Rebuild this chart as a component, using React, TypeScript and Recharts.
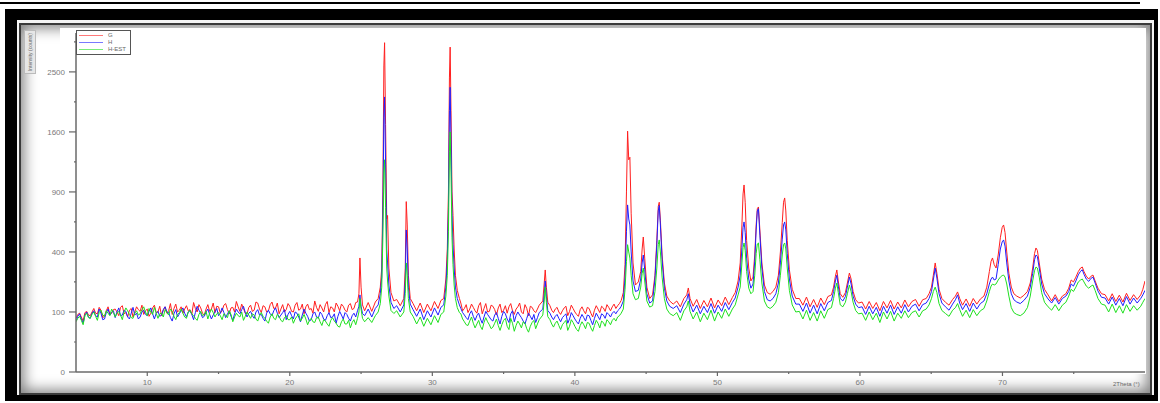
import React from "react";
import { LineChart, Line, XAxis, YAxis, Legend } from "recharts";

// 2θ sampling positions (degrees)
const twoTheta = [
  // 5.000 – 24.750
  5.0, 5.125, 5.25, 5.375, 5.5, 5.625, 5.75, 5.875,
  6.0, 6.125, 6.25, 6.375, 6.5, 6.625, 6.75, 6.875,
  7.0, 7.125, 7.25, 7.375, 7.5, 7.625, 7.75, 7.875,
  8.0, 8.125, 8.25, 8.375, 8.5, 8.625, 8.75, 8.875,
  9.0, 9.125, 9.25, 9.375, 9.5, 9.625, 9.75, 9.875,
  10.0, 10.125, 10.25, 10.375, 10.5, 10.625, 10.75, 10.875,
  11.0, 11.125, 11.25, 11.375, 11.5, 11.625, 11.75, 11.875,
  12.0, 12.125, 12.25, 12.375, 12.5, 12.625, 12.75, 12.875,
  13.0, 13.125, 13.25, 13.375, 13.5, 13.625, 13.75, 13.875,
  14.0, 14.125, 14.25, 14.375, 14.5, 14.625, 14.75, 14.875,
  15.0, 15.125, 15.25, 15.375, 15.5, 15.625, 15.75, 15.875,
  16.0, 16.125, 16.25, 16.375, 16.5, 16.625, 16.75, 16.875,
  17.0, 17.125, 17.25, 17.375, 17.5, 17.625, 17.75, 17.875,
  18.0, 18.125, 18.25, 18.375, 18.5, 18.625, 18.75, 18.875,
  19.0, 19.125, 19.25, 19.375, 19.5, 19.625, 19.75, 19.875,
  20.0, 20.125, 20.25, 20.375, 20.5, 20.625, 20.75, 20.875,
  21.0, 21.125, 21.25, 21.375, 21.5, 21.625, 21.75, 21.875,
  22.0, 22.125, 22.25, 22.375, 22.5, 22.625, 22.75, 22.875,
  23.0, 23.125, 23.25, 23.375, 23.5, 23.625, 23.75, 23.875,
  24.0, 24.125, 24.25, 24.375, 24.5, 24.625, 24.75,
  // 24.85 – 27.30
  24.85, 24.92, 25.0, 25.1, 25.25, 25.5, 25.75, 26.0, 26.2, 26.35,
  26.45, 26.53, 26.6, 26.65, 26.72, 26.8, 26.86, 26.95, 27.1, 27.3,
  // 27.50 – 31.90
  27.5, 27.75, 28.0, 28.1, 28.17, 28.24, 28.32, 28.45, 28.65, 28.9,
  29.15, 29.4, 29.65, 29.9, 30.15, 30.4, 30.6, 30.8, 30.95, 31.05,
  31.13, 31.2, 31.25, 31.31, 31.38, 31.45, 31.53, 31.62, 31.75, 31.9,
  // 32.000 – 37.500
  32.0, 32.125, 32.25, 32.375, 32.5, 32.625, 32.75, 32.875,
  33.0, 33.125, 33.25, 33.375, 33.5, 33.625, 33.75, 33.875,
  34.0, 34.125, 34.25, 34.375, 34.5, 34.625, 34.75, 34.875,
  35.0, 35.125, 35.25, 35.375, 35.5, 35.625, 35.75, 35.875,
  36.0, 36.125, 36.25, 36.375, 36.5, 36.625, 36.75, 36.875,
  37.0, 37.125, 37.25, 37.375, 37.5,
  // 37.75 – 38.10
  37.75, 37.85, 37.92, 38.0, 38.1,
  // 38.250 – 43.250
  38.25, 38.375, 38.5, 38.625, 38.75, 38.875,
  39.0, 39.125, 39.25, 39.375, 39.5, 39.625, 39.75, 39.875,
  40.0, 40.125, 40.25, 40.375, 40.5, 40.625, 40.75, 40.875,
  41.0, 41.125, 41.25, 41.375, 41.5, 41.625, 41.75, 41.875,
  42.0, 42.125, 42.25, 42.375, 42.5, 42.625, 42.75, 42.875,
  43.0, 43.125, 43.25,
  // 43.40 – 46.90
  43.4, 43.52, 43.62, 43.7, 43.78, 43.86, 43.95, 44.08, 44.25, 44.45,
  44.62, 44.72, 44.8, 44.9, 45.05, 45.25, 45.45, 45.62, 45.75, 45.85,
  45.92, 46.0, 46.12, 46.28, 46.45, 46.65, 46.9,
  // 47.15 – 51.45
  47.15, 47.4, 47.65, 47.85, 47.96, 48.08, 48.3, 48.55, 48.8, 49.05,
  49.3, 49.55, 49.8, 50.05, 50.3, 50.55, 50.8, 51.05, 51.25, 51.45,
  // 51.60 – 55.50
  51.6, 51.72, 51.8, 51.87, 51.95, 52.05, 52.2, 52.35, 52.5, 52.62,
  52.72, 52.8, 52.88, 52.98, 53.12, 53.3, 53.5, 53.7, 53.9, 54.1,
  54.28, 54.42, 54.55, 54.64, 54.72, 54.8, 54.9, 55.05, 55.25, 55.5,
  // 55.75 – 66.00
  55.75, 56.0, 56.25, 56.5, 56.75, 57.0, 57.25, 57.5, 57.75, 58.0,
  58.15, 58.28, 58.38, 58.48, 58.62, 58.8, 58.98, 59.12, 59.26, 59.38,
  59.52, 59.7, 59.9, 60.15, 60.4, 60.65, 60.9, 61.15, 61.4, 61.65,
  61.9, 62.15, 62.4, 62.65, 62.9, 63.15, 63.4, 63.65, 63.9, 64.15,
  64.4, 64.65, 64.85, 65.02, 65.15, 65.28, 65.4, 65.55, 65.75, 66.0,
  // 66.25 – 80.00
  66.25, 66.5, 66.7, 66.85, 67.0, 67.2, 67.45, 67.7, 67.95, 68.2,
  68.45, 68.7, 68.9, 69.08, 69.2, 69.3, 69.42, 69.55, 69.7, 69.85,
  69.98, 70.08, 70.18, 70.3, 70.45, 70.62, 70.8, 71.0, 71.25, 71.5,
  71.75, 71.95, 72.12, 72.25, 72.35, 72.45, 72.58, 72.75, 72.95, 73.2,
  73.45, 73.7, 73.95, 74.2, 74.45, 74.65, 74.82, 74.98, 75.15, 75.32,
  75.48, 75.6, 75.72, 75.88, 76.05, 76.22, 76.35, 76.5, 76.7, 76.95,
  77.2, 77.45, 77.7, 77.95, 78.2, 78.45, 78.7, 78.95, 79.2, 79.45,
  79.7, 79.85, 80.0,
];

// sample G (red)
const seriesG = [
  80, 92, 96, 84, 72, 98, 102, 90,
  88, 100, 112, 96, 94, 116, 106, 82,
  86, 104, 118, 92, 96, 108, 110, 100,
  88, 116, 122, 94, 98, 84, 106, 112,
  84, 100, 118, 108, 102, 124, 92, 104,
  110, 86, 96, 114, 124, 98, 100, 120,
  88, 106, 118, 96, 104, 130, 92, 112,
  128, 100, 106, 118, 96, 110, 122, 104,
  108, 92, 134, 112, 100, 126, 114, 96,
  90, 110, 126, 102, 110, 132, 98, 120,
  118, 96, 104, 124, 130, 108, 94, 114,
  116, 100, 138, 118, 102, 128, 112, 96,
  94, 116, 124, 102, 106, 136, 132, 110,
  98, 122, 118, 100, 104, 126, 136, 112,
  114, 132, 94, 110, 126, 100, 108, 130,
  120, 102, 100, 124, 134, 106, 110, 128,
  94, 118, 128, 108, 112, 96, 140, 116,
  102, 126, 114, 100, 126, 138, 98, 118,
  114, 100, 132, 120, 104, 128, 120, 106,
  100, 124, 130, 108, 112, 134, 136,
  170, 361, 200, 125, 104, 134, 102, 136, 150, 200,
  300, 900, 2600, 3010, 1700, 650, 680, 300, 175, 140,
  146, 122, 150, 300, 806, 600, 260, 150, 130, 104,
  132, 98, 128, 104, 138, 112, 142, 150, 240, 420,
  900, 2400, 2930, 1900, 900, 680, 420, 260, 185, 150,
  132, 104, 112, 126, 98, 110, 128, 116,
  104, 96, 122, 134, 94, 112, 130, 100,
  102, 124, 120, 108, 90, 114, 128, 98,
  106, 122, 96, 118, 130, 104, 92, 110,
  118, 132, 100, 94, 126, 112, 88, 120,
  116, 104, 98, 110, 124,
  140, 220, 289, 200, 135,
  122, 106, 98, 110, 116, 100,
  92, 104, 114, 120, 88, 102, 124, 112,
  100, 92, 86, 108, 118, 104, 94, 116,
  112, 96, 84, 106, 122, 110, 98, 120,
  114, 102, 126, 116, 104, 118, 128, 112,
  122, 130, 142,
  175, 320, 900, 1610, 1250, 1280, 700, 330, 210, 225,
  280, 420, 506, 360, 200, 150, 165, 260, 480, 760,
  800, 640, 380, 220, 160, 140, 128,
  140, 118, 150, 165, 196, 150, 120, 146, 112, 142,
  118, 152, 114, 144, 122, 156, 126, 154, 175, 230,
  330, 600, 880, 971, 800, 480, 300, 230, 250, 380,
  600, 740, 756, 560, 330, 210, 175, 168, 180, 200,
  260, 400, 620, 800, 841, 720, 480, 290, 190, 150,
  150, 124, 156, 118, 146, 116, 152, 126, 158, 165,
  200, 255, 289, 230, 170, 155, 175, 220, 272, 240,
  180, 145, 132, 136, 110, 138, 112, 134, 104, 138,
  114, 142, 110, 136, 114, 144, 118, 138, 146, 120,
  145, 150, 170, 200, 260, 330, 270, 190, 150, 135,
  124, 146, 160, 178, 150, 124, 148, 120, 150, 128,
  148, 160, 200, 280, 340, 361, 320, 300, 380, 500,
  580, 600, 540, 400, 270, 200, 170, 160, 152, 163,
  180, 220, 300, 390, 427, 410, 330, 240, 190, 165,
  140, 166, 138, 160, 170, 195, 235, 225, 250, 280,
  300, 306, 280, 255, 240, 255, 261, 230, 195, 170,
  166, 140, 170, 138, 164, 136, 172, 142, 166, 146,
  165, 190, 230,
];

// sample H (blue)
const seriesH = [
  72, 86, 94, 78, 66, 90, 100, 84,
  80, 96, 104, 88, 84, 110, 96, 76,
  78, 98, 110, 90, 98, 104, 82, 100,
  114, 88, 90, 106, 102, 84, 78, 96,
  116, 90, 96, 78, 84, 100, 106, 92,
  88, 102, 114, 94, 78, 96, 102, 86,
  90, 108, 118, 100, 98, 82, 72, 94,
  108, 84, 94, 104, 114, 96, 84, 100,
  104, 92, 76, 98, 120, 106, 96, 82,
  86, 100, 110, 92, 78, 90, 100, 112,
  88, 96, 114, 98, 82, 94, 104, 86,
  74, 94, 110, 100, 94, 108, 120, 98,
  84, 96, 102, 88, 80, 100, 108, 90,
  92, 80, 72, 96, 106, 94, 88, 104,
  114, 96, 82, 90, 98, 108, 76, 92,
  102, 88, 78, 100, 96, 84, 70, 90,
  110, 96, 86, 72, 76, 94, 100, 84,
  80, 100, 92, 78, 74, 88, 98, 82,
  84, 94, 66, 86, 102, 90, 78, 98,
  92, 80, 72, 88, 96, 84, 104,
  120, 165, 120, 95, 88, 110, 84, 112, 125, 170,
  250, 700, 1800, 2100, 1200, 420, 330, 210, 135, 112,
  122, 100, 125, 230, 560, 420, 200, 128, 108, 86,
  110, 76, 104, 84, 114, 90, 116, 125, 200, 350,
  750, 1900, 2250, 1500, 700, 450, 300, 200, 150, 125,
  112, 98, 90, 82, 76, 94, 104, 86,
  74, 88, 96, 78, 66, 84, 102, 92,
  84, 76, 72, 90, 98, 80, 64, 86,
  102, 94, 78, 68, 94, 104, 70, 88,
  100, 90, 82, 72, 64, 80, 96, 86,
  76, 92, 68, 82, 98,
  110, 170, 230, 160, 105,
  96, 84, 76, 86, 92, 80,
  70, 82, 88, 94, 66, 78, 98, 88,
  78, 70, 64, 80, 92, 82, 72, 90,
  88, 74, 62, 80, 96, 86, 76, 94,
  90, 80, 98, 92, 84, 96, 102, 94,
  104, 110, 120,
  140, 250, 550, 775, 650, 600, 400, 230, 180, 185,
  240, 330, 380, 290, 170, 132, 140, 240, 450, 720,
  770, 600, 350, 195, 140, 120, 112,
  122, 98, 128, 145, 170, 128, 100, 124, 94, 120,
  98, 130, 96, 124, 102, 134, 108, 134, 152, 200,
  260, 430, 580, 625, 540, 360, 240, 195, 215, 340,
  560, 720, 740, 520, 300, 180, 145, 140, 150, 170,
  220, 330, 490, 600, 625, 560, 390, 240, 160, 128,
  128, 102, 132, 96, 124, 94, 130, 104, 134, 142,
  180, 230, 260, 205, 150, 140, 158, 200, 250, 215,
  160, 128, 115, 118, 92, 120, 94, 116, 86, 120,
  96, 124, 92, 118, 96, 126, 100, 120, 128, 104,
  126, 132, 150, 180, 235, 300, 245, 170, 132, 118,
  106, 128, 145, 165, 132, 108, 130, 102, 132, 110,
  130, 140, 170, 215, 240, 250, 235, 240, 320, 420,
  470, 484, 440, 330, 230, 170, 145, 136, 130, 142,
  160, 200, 270, 350, 380, 370, 300, 215, 170, 148,
  132, 154, 128, 150, 160, 180, 215, 205, 230, 262,
  282, 290, 265, 240, 228, 244, 250, 220, 182, 155,
  152, 128, 156, 124, 150, 122, 158, 128, 152, 132,
  150, 165, 185,
];

// sample H-EST (green)
const seriesHEST = [
  70, 80, 86, 74, 62, 88, 96, 82,
  80, 92, 100, 86, 74, 98, 106, 90,
  86, 104, 96, 88, 110, 98, 84, 96,
  102, 90, 76, 100, 114, 104, 92, 82,
  80, 96, 104, 90, 94, 108, 118, 100,
  88, 112, 100, 92, 116, 96, 80, 94,
  96, 84, 108, 98, 90, 110, 102, 86,
  76, 92, 98, 110, 96, 84, 80, 100,
  106, 94, 88, 80, 74, 92, 102, 88,
  92, 102, 78, 96, 110, 98, 84, 94,
  98, 88, 76, 94, 90, 82, 104, 92,
  70, 84, 96, 88, 84, 100, 74, 86,
  100, 90, 80, 94, 90, 78, 72, 88,
  98, 86, 80, 72, 66, 84, 94, 80,
  76, 92, 86, 74, 70, 82, 88, 76,
  76, 84, 66, 78, 86, 94, 72, 80,
  92, 78, 62, 74, 80, 70, 68, 82,
  84, 70, 60, 76, 72, 64, 58, 74,
  82, 72, 66, 58, 56, 70, 78, 64,
  64, 74, 54, 68, 76, 62, 80,
  100, 150, 110, 80, 70, 82, 68, 88, 100, 130,
  200, 500, 1100, 1250, 750, 300, 230, 160, 105, 95,
  104, 84, 100, 170, 330, 260, 150, 100, 86, 64,
  84, 58, 80, 62, 88, 68, 92, 100, 160, 260,
  550, 1350, 1600, 1100, 500, 320, 210, 150, 115, 98,
  94, 78, 70, 62, 60, 72, 84, 66,
  54, 64, 74, 58, 50, 68, 82, 70,
  62, 52, 56, 66, 78, 60, 48, 62,
  74, 80, 58, 50, 80, 66, 46, 60,
  72, 64, 54, 70, 66, 52, 44, 58,
  68, 74, 52, 64, 76,
  90, 140, 200, 135, 85,
  76, 64, 56, 66, 72, 60,
  50, 62, 68, 74, 48, 58, 76, 68,
  58, 50, 46, 60, 70, 62, 52, 68,
  66, 54, 46, 60, 74, 66, 54, 72,
  68, 58, 76, 70, 62, 74, 80, 72,
  84, 88, 96,
  110, 190, 340, 450, 400, 360, 260, 170, 145, 150,
  200, 270, 300, 230, 140, 117, 122, 180, 300, 450,
  484, 400, 250, 150, 110, 95, 88,
  98, 74, 104, 118, 140, 102, 78, 100, 70, 96,
  76, 106, 72, 100, 80, 110, 86, 110, 125, 165,
  200, 330, 430, 462, 410, 280, 195, 170, 180, 260,
  390, 455, 462, 350, 220, 140, 118, 112, 120, 135,
  175, 260, 380, 450, 462, 420, 300, 185, 125, 100,
  102, 78, 106, 74, 98, 72, 104, 80, 108, 115,
  150, 195, 220, 175, 125, 118, 135, 170, 210, 180,
  135, 105, 94, 96, 74, 100, 76, 96, 68, 100,
  78, 102, 72, 96, 80, 104, 82, 98, 104, 84,
  104, 110, 125, 150, 180, 200, 175, 130, 105, 95,
  86, 106, 115, 130, 108, 86, 106, 82, 108, 88,
  104, 112, 140, 180, 205, 215, 210, 215, 235, 250,
  258, 261, 250, 215, 160, 115, 98, 92, 88, 96,
  115, 160, 230, 285, 306, 300, 250, 175, 135, 118,
  106, 126, 104, 124, 135, 160, 190, 180, 200, 225,
  235, 240, 225, 205, 195, 205, 210, 185, 150, 128,
  124, 100, 128, 98, 122, 96, 126, 102, 122, 106,
  120, 135, 150,
];

const seriesNames = ["G", "H", "H-EST"];
const seriesColors = ["#ff1f1f", "#1f1fff", "#1fe01f"];

const xTicks = [10, 15, 20, 25, 30, 35, 40, 45, 50, 55, 60, 65, 70, 75];
const yMajorTicks = [0, 100, 400, 900, 1600, 2500];
const yMinorTicks = [25, 225, 625, 1225, 2025, 3025];

const data = twoTheta.map((x, i) => ({
  x,
  g: seriesG[i],
  h: seriesH[i],
  hest: seriesHEST[i],
}));

const FONT = "'Liberation Sans', Arial, sans-serif";

function XTick({ x, y, payload }: any) {
  const major = payload.value % 10 === 0;
  return (
    <g>
      <line x1={x} x2={x} y1={y} y2={y + (major ? 4 : 2)} stroke="#666" strokeWidth={1.2} />
      {major && (
        <text x={x} y={y + 13} textAnchor="middle" fontSize={8} fill="#7a7a7a" fontFamily={FONT}>
          {payload.value}
        </text>
      )}
    </g>
  );
}

function YTick({ x, y, payload }: any) {
  const major = yMajorTicks.includes(payload.value);
  return (
    <g>
      <line x1={x} x2={x - (major ? 7 : 2)} y1={y} y2={y} stroke="#666" strokeWidth={1.2} />
      {major && (
        <text x={x - 11} y={y + 3} textAnchor="end" fontSize={8} fill="#7a7a7a" fontFamily={FONT}>
          {payload.value}
        </text>
      )}
    </g>
  );
}

function LegendBox() {
  return (
    <div
      style={{
        border: "1px solid #555",
        background: "#fff",
        width: 51,
        padding: "1px 0 1px 2px",
        fontFamily: FONT,
        fontSize: 6,
        color: "#666",
        lineHeight: "7px",
      }}
    >
      {seriesNames.map((name, i) => (
        <div key={name} style={{ display: "flex", alignItems: "center", height: 7 }}>
          <span style={{ width: 24, height: 0, borderTop: `1px solid ${seriesColors[i]}`, opacity: 0.6, marginRight: 5 }} />
          <span style={{ color: "#666" }}>{name}</span>
        </div>
      ))}
    </div>
  );
}

export default function App() {
  return (
    <div style={{ position: "absolute", left: 0, top: 0, width: 1160, height: 403, background: "#fff", overflow: "hidden" }}>
      {/* top rule */}
      <div style={{ position: "absolute", left: 0, top: 2, width: 1140, height: 2, background: "#000" }} />
      {/* black frame */}
      <div style={{ position: "absolute", left: 5, top: 9, width: 1153, height: 392, background: "#000" }} />
      <div style={{ position: "absolute", left: 17, top: 20, width: 1137, height: 375, background: "#f4f4f4" }} />
      <div
        style={{
          position: "absolute",
          left: 19,
          top: 23,
          width: 1129,
          height: 368,
          background: "#fff",
          border: "2px solid #3a3a3a",
          boxShadow: "inset 0 0 14px 3px rgba(0,0,0,0.5)",
        }}
      />
      <div style={{ position: "absolute", left: 60, top: 28, width: 1086, height: 346, background: "#fff" }} />

      <div style={{ position: "absolute", left: 0, top: 0 }}>
        <LineChart width={1160} height={403} data={data} margin={{ top: 33, right: 15, bottom: 11, left: 36 }}>
          <XAxis
            dataKey="x"
            type="number"
            domain={[5, 80]}
            ticks={xTicks}
            interval={0}
            allowDataOverflow
            height={20}
            stroke="#6a6a6a"
            strokeWidth={1.5}
            tickLine={false}
            tickSize={0}
            tickMargin={0}
            tick={<XTick />}
          />
          <YAxis
            type="number"
            scale="sqrt"
            domain={[0, 3190]}
            ticks={[...yMajorTicks, ...yMinorTicks].sort((a, b) => a - b)}
            interval={0}
            allowDataOverflow
            width={40}
            stroke="#6a6a6a"
            strokeWidth={1.5}
            tickLine={false}
            tickSize={0}
            tickMargin={0}
            tick={<YTick />}
          />
          <Legend
            layout="vertical"
            align="center"
            verticalAlign="middle"
            content={<LegendBox />}
            wrapperStyle={{ left: 76, top: 30, width: 55 }}
          />
          <Line dataKey="g" name={seriesNames[0]} stroke={seriesColors[0]} strokeWidth={1} dot={false} isAnimationActive={false} />
          <Line dataKey="h" name={seriesNames[1]} stroke={seriesColors[1]} strokeWidth={1} dot={false} isAnimationActive={false} />
          <Line dataKey="hest" name={seriesNames[2]} stroke={seriesColors[2]} strokeWidth={1} dot={false} isAnimationActive={false} />
        </LineChart>
      </div>

      <div
        style={{
          position: "absolute",
          left: 24,
          top: 30,
          width: 10,
          height: 42,
          background: "#e6e6e6",
          border: "1px solid #bbb",
        }}
      >
        <div
          style={{
            position: "absolute",
            left: 5,
            top: 21,
            transform: "translate(-50%, -50%) rotate(-90deg)",
            whiteSpace: "nowrap",
            fontFamily: FONT,
            fontSize: 5,
            color: "#666",
          }}
        >
          Intensity (counts)
        </div>
      </div>
      <div
        style={{
          position: "absolute",
          left: 1113,
          top: 381,
          whiteSpace: "nowrap",
          fontFamily: FONT,
          fontSize: 6,
          color: "#666",
        }}
      >
        2Theta (°)
      </div>
    </div>
  );
}
